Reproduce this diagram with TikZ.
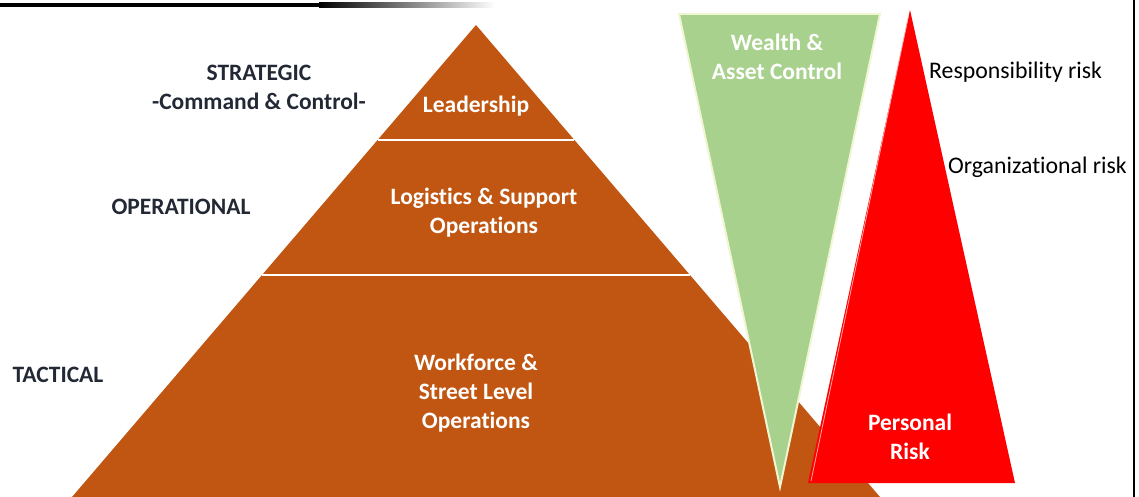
\documentclass[tikz,border=0pt]{standalone}
\usepackage{fontspec}
\setmainfont{Carlito}[Ligatures=NoCommon]
\usetikzlibrary{calc}
\definecolor{pyrbrown}{RGB}{192,86,17}
\definecolor{wealthgreen}{RGB}{169,209,142}
\definecolor{cream}{RGB}{240,246,212}
\definecolor{labeldark}{RGB}{34,40,52}
\begin{document}
\begin{tikzpicture}[x=1pt,y=-1pt,
  whitelbl/.style={text=white,font=\bfseries\fontsize{23.5}{29}\selectfont,align=center,inner sep=0pt},
  darklbl/.style={text=labeldark,font=\bfseries\fontsize{23.5}{29}\selectfont,align=center,inner sep=0pt},
  risklbl/.style={text=black,font=\fontsize{23.8}{29}\selectfont,anchor=west,inner sep=0pt},
  sepline/.style={white,line width=2.5pt}]
\useasboundingbox (0,0) rectangle (1139,497);
% top rule
\fill[black] (0,3) rectangle (320,7.5);
\shade[left color=black,right color=white] (319,3) rectangle (495,7.5);
% right rule
\draw[black,line width=2pt] (1134,0) -- (1134,497);
% pyramid
\coordinate (apex) at (476,25);
\coordinate (bl) at (72,497);
\coordinate (br) at (880,497);
\fill[pyrbrown] (apex) -- (br) -- (bl) -- cycle;
\coordinate (s1l) at (377.6,140);
\coordinate (s1r) at (574.4,140);
\coordinate (s2l) at (262,275);
\coordinate (s2r) at (690,275);
\draw[sepline] (s1l) -- (s1r);
\draw[sepline] (s2l) -- (s2r);
% green inverted triangle
\coordinate (gtl) at (679,14);
\coordinate (gtr) at (880,14);
\coordinate (gtip) at (780,487);
\filldraw[fill=wealthgreen,draw=cream,line width=2pt,line join=miter] (gtl) -- (gtr) -- (gtip) -- cycle;
% red triangle
\coordinate (rtop) at (910,10);
\coordinate (rbr) at (1015,483);
\coordinate (rbl) at (808,483);
\fill[red] (rtop) -- (rbr) -- (rbl) -- cycle;
\draw[red!35!white,line width=0.8pt] ($(rtop)+(-1.5,6)$) -- ($(rbl)+(3,-2)$);
% labels
\node[darklbl] (strat) at (259,87) {STRATEGIC\\-Command \& Control-};
\node[darklbl] (oper) at (181,207) {OPERATIONAL};
\node[darklbl] (tact) at (58,375) {TACTICAL};
\node[whitelbl] (lead) at (476,106) {Leadership};
\node[whitelbl] (logi) at (484,213) {Logistics \& Support\\Operations};
\node[whitelbl] (work) at (476,393) {Workforce \&\\Street Level\\Operations};
\node[whitelbl] (wealth) at (777,57) {Wealth \&\\Asset Control};
\node[whitelbl] (pers) at (910,436.5) {Personal\\Risk};
\node[risklbl] (resp) at (929,72) {Responsibility risk};
\node[risklbl] (org) at (948,167) {Organizational risk};
\end{tikzpicture}
\end{document}
